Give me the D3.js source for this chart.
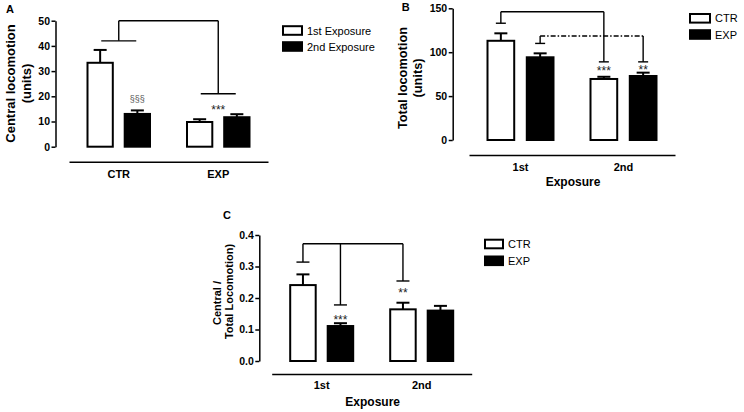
<!DOCTYPE html>
<html>
<head>
<meta charset="utf-8">
<script src="https://cdn.jsdelivr.net/npm/d3@7"></script>
<style>
  body { margin: 0; background: #fff; }
  text { font-family: "Liberation Sans", Arial, sans-serif; }
</style>
</head>
<body>
<div id="Canvas"></div>
<script>
// ---- A: central locomotion ----
const groupsA = ["CTR", "EXP"]
const seriesA = ["1st Exposure", "2nd Exposure"]
const meanA = [[33.3, 9.8], [13.0, 11.7]]   // [series][group]
const semA = [[5.1, 1.1], [1.4, 1.2]]
const ticksA = [0, 10, 20, 30, 40, 50]
const bracketsA = [{ top: 50, legs: [{ g: 0, s: null, end: 42 }, { g: 1, s: null, end: 21 }] }]
const notesA = [{ text: "§§§", g: 0, s: 1, y: 18.9 }, { text: "***", g: 1, s: null, y: 15.7 }]

// ---- B: total locomotion ----
const groupsB = ["1st", "2nd"]
const seriesB = ["CTR", "EXP"]
const meanB = [[113, 69.5], [94.2, 72.9]]
const semB = [[8.5, 2.5], [4.5, 3.8]]
const ticksB = [0, 50, 100, 150]
const bracketsB = [
    { top: 146, dash: false, legs: [{ g: 0, s: 0, end: 133 }, { g: 1, s: 0, end: 89 }] },
    { top: 118.5, dash: true, legs: [{ g: 0, s: 1, end: 110 }, { g: 1, s: 1, end: 89 }] }
]
const notesB = [{ text: "***", g: 1, s: 0, y: 82 }, { text: "**", g: 1, s: 1, y: 83.5 }]

// ---- C: central / total ----
const groupsC = ["1st", "2nd"]
const seriesC = ["CTR", "EXP"]
const meanC = [[0.241, 0.164], [0.111, 0.160]]
const semC = [[0.034, 0.021], [0.009, 0.015]]
const ticksC = [0, 0.1, 0.2, 0.3, 0.4]
const bracketsC = [{ top: 0.372, legs: [{ g: 0, s: 0, end: 0.314 }, { g: 0, s: 1, end: 0.178 }, { g: 1, s: 0, end: 0.254 }] }]
const notesC = [{ text: "***", g: 0, s: 1, y: 0.141 }, { text: "**", g: 1, s: 0, y: 0.225 }]

let svg = d3.select("#Canvas")
    .append("svg")
    .attr("width", 744)
    .attr("height", 412)

function drawPanel(p) {
    let g = svg.append("g")
    let y = d3.scaleLinear().domain(p.domain).range([p.y0, p.yTop])
    let x = d3.scaleBand().domain(p.groups).range(p.xRange)
    let inner = d3.scaleBand().domain(p.series).range([18.5, x.bandwidth() - 18.5]).paddingInner(0.32)
    let bw = inner.bandwidth()
    let barCenter = (gi, si) => si === null
        ? x(p.groups[gi]) + x.bandwidth() / 2
        : x(p.groups[gi]) + inner(p.series[si]) + bw / 2

    // y axis
    let ya = g.append("g")
        .attr("transform", `translate(${p.axisX},0)`)
        .call(d3.axisLeft(y).tickValues(p.ticks).tickFormat(p.fmt).tickSize(4).tickSizeOuter(0).tickPadding(1.5))
    ya.selectAll("path,line").attr("stroke", "#000").attr("stroke-width", 1.5)
    ya.selectAll("text").attr("font-family", "Liberation Sans, Arial, sans-serif")
        .attr("font-size", 10.5).attr("font-weight", "bold").attr("fill", "#000")

    // x axis (detached)
    let xa = g.append("g")
        .attr("transform", `translate(0,${p.xAxisY})`)
        .call(d3.axisBottom(x).tickSize(0).tickSizeOuter(0).tickPadding(p.xPad))
    xa.select("path").attr("stroke", "#000").attr("stroke-width", 1.5)
    xa.selectAll("text").attr("font-family", "Liberation Sans, Arial, sans-serif")
        .attr("font-size", 11).attr("font-weight", "bold").attr("fill", "#000")

    // bars + error bars
    let rows = []
    p.series.forEach((s, si) => p.groups.forEach((gr, gi) => {
        rows.push({ si: si, gi: gi, m: p.mean[si][gi], e: p.sem[si][gi] })
    }))
    g.append("g").selectAll("line")
        .data(rows)
        .enter()
        .append("line")
        .attr("x1", d => barCenter(d.gi, d.si))
        .attr("x2", d => barCenter(d.gi, d.si))
        .attr("y1", d => y(d.m))
        .attr("y2", d => y(d.m + d.e))
        .style("stroke", "#000").style("stroke-width", 2)
    g.append("g").selectAll("line")
        .data(rows)
        .enter()
        .append("line")
        .attr("x1", d => barCenter(d.gi, d.si) - 6.5)
        .attr("x2", d => barCenter(d.gi, d.si) + 6.5)
        .attr("y1", d => y(d.m + d.e))
        .attr("y2", d => y(d.m + d.e))
        .style("stroke", "#000").style("stroke-width", 2)
    g.append("g").selectAll("rect")
        .data(rows)
        .enter()
        .append("rect")
        .attr("x", d => x(p.groups[d.gi]) + inner(p.series[d.si]))
        .attr("y", d => y(d.m))
        .attr("width", bw)
        .attr("height", d => y(0) - y(d.m))
        .style("fill", d => d.si === 0 ? "#fff" : "#000")
        .style("stroke", "#000").style("stroke-width", 2)

    // brackets
    p.brackets.forEach(b => {
        let xs = b.legs.map(l => barCenter(l.g, l.s))
        let bg = g.append("g")
            .style("stroke", "#000").style("stroke-width", 1.4).style("fill", "none")
        bg.append("line")
            .attr("x1", d3.min(xs)).attr("x2", d3.max(xs))
            .attr("y1", y(b.top)).attr("y2", y(b.top))
            .style("stroke-dasharray", b.dash ? "5,2,1.5,2" : null)
        b.legs.forEach((l, i) => {
            bg.append("line")
                .attr("x1", xs[i]).attr("x2", xs[i])
                .attr("y1", y(b.top)).attr("y2", y(l.end))
            bg.append("line")
                .attr("x1", xs[i] - p.cap / 2).attr("x2", xs[i] + p.cap / 2)
                .attr("y1", y(l.end)).attr("y2", y(l.end))
        })
    })

    // significance marks
    g.append("g").selectAll("text")
        .data(p.notes)
        .enter()
        .append("text")
        .attr("x", d => barCenter(d.g, d.s))
        .attr("y", d => y(d.y) + (d.text[0] === "*" ? 7 : 3))
        .attr("text-anchor", "middle")
        .attr("font-size", d => d.text[0] === "*" ? 12 : 9)
        .attr("fill", d => d.text[0] === "*" ? "#222" : "#555")
        .text(d => d.text)

    // y title (rotated, one text per line)
    p.yTitle.forEach((t, i) => {
        g.append("text")
            .attr("transform", `translate(${p.titleX[i]},${p.titleY[i]}) rotate(-90)`)
            .attr("font-size", p.titleSize).attr("font-weight", "bold")
            .attr("text-anchor", "middle")
            .text(t)
    })

    // x title
    if (p.xTitle) {
        g.append("text")
            .attr("x", p.xTitle[1]).attr("y", p.xTitle[2])
            .attr("text-anchor", "middle")
            .attr("font-size", 12).attr("font-weight", "bold")
            .text(p.xTitle[0])
    }

    // legend
    let lg = g.append("g").selectAll("g")
        .data(p.series)
        .enter()
        .append("g")
        .attr("transform", (d, i) => `translate(${p.legend[0]},${p.legend[1] + i * p.legend[2]})`)
    lg.append("rect")
        .attr("x", 0).attr("y", -4.3)
        .attr("width", p.legend[3]).attr("height", 8.6)
        .style("fill", (d, i) => i === 0 ? "#fff" : "#000")
        .style("stroke", "#000").style("stroke-width", 2)
    lg.append("text")
        .attr("x", p.legend[3] + 5).attr("y", 4)
        .attr("font-size", 11)
        .text(d => d)

    // panel letter
    g.append("text")
        .attr("x", p.letter[1]).attr("y", p.letter[2])
        .attr("font-size", 11).attr("font-weight", "bold")
        .text(p.letter[0])
}

drawPanel({
    groups: groupsA, series: seriesA, mean: meanA, sem: semA, ticks: ticksA,
    brackets: bracketsA, notes: notesA, fmt: d3.format("d"),
    domain: [0, 50], y0: 146.7, yTop: 20.7, axisX: 55.5,
    xRange: [69, 268], xAxisY: 161.7, xPad: 9, cap: 35,
    yTitle: ["Central locomotion", "(units)"], titleX: [15, 30.5], titleY: [83.5, 83.5], titleSize: 13,
    xTitle: null, legend: [283, 30.5, 16, 19], letter: ["A", 6, 13]
})

drawPanel({
    groups: groupsB, series: seriesB, mean: meanB, sem: semB, ticks: ticksB,
    brackets: bracketsB, notes: notesB, fmt: d3.format("d"),
    domain: [0, 150], y0: 140, yTop: 8.3, axisX: 452.7,
    xRange: [469, 675], xAxisY: 155, xPad: 8, cap: 10,
    yTitle: ["Total locomotion", "(units)"], titleX: [406.7, 422], titleY: [78, 78], titleSize: 12.8,
    xTitle: ["Exposure", 573, 186], legend: [690, 18.3, 16.2, 20], letter: ["B", 401.7, 10.5]
})

drawPanel({
    groups: groupsC, series: seriesC, mean: meanC, sem: semC, ticks: ticksC,
    brackets: bracketsC, notes: notesC, fmt: d3.format(".1f"),
    domain: [0, 0.4], y0: 361, yTop: 235, axisX: 259.3,
    xRange: [271.7, 471.7], xAxisY: 374, xPad: 7.5, cap: 13,
    yTitle: ["Central /", "Total Locomotion)"], titleX: [221, 233], titleY: [303, 291.5], titleSize: 11,
    xTitle: ["Exposure", 372.7, 405.5], legend: [485, 244, 16.8, 18], letter: ["C", 223, 218.5]
})
</script>
</body>
</html>
